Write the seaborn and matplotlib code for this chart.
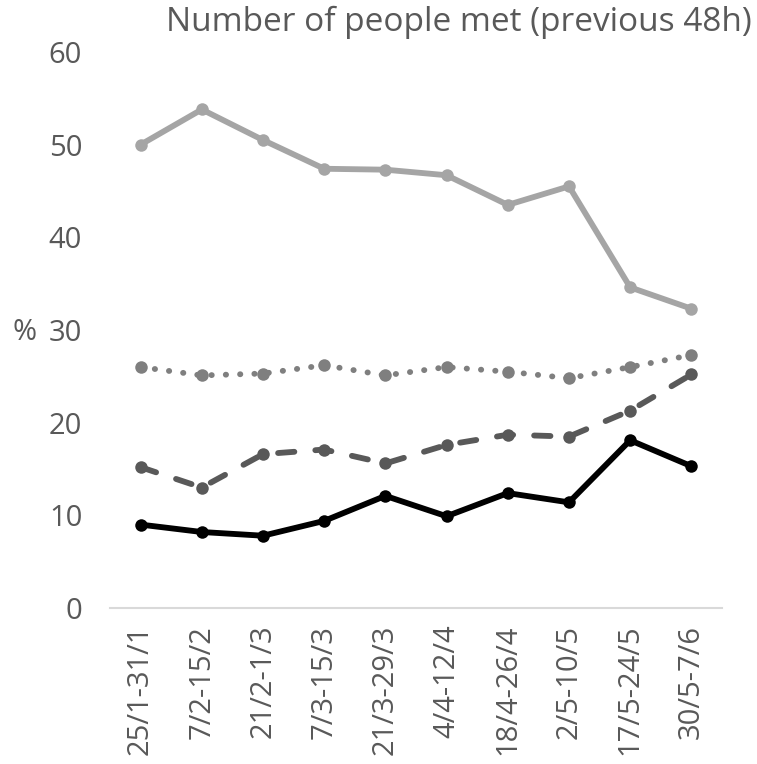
import matplotlib
matplotlib.use("Agg")
import matplotlib.pyplot as plt
import seaborn as sns
import pandas as pd

periods = ["25/1-31/1", "7/2-15/2", "21/2-1/3", "7/3-15/3", "21/3-29/3",
           "4/4-12/4", "18/4-26/4", "2/5-10/5", "17/5-24/5", "30/5-7/6"]

met_few = [50.0, 53.8, 50.5, 47.4, 47.3, 46.7, 43.5, 45.5, 34.6, 32.3]
met_some = [26.0, 25.1, 25.3, 26.2, 25.1, 26.0, 25.5, 24.8, 26.0, 27.3]
met_more = [15.2, 13.0, 16.6, 17.1, 15.6, 17.6, 18.7, 18.5, 21.3, 25.2]
met_many = [9.0, 8.2, 7.8, 9.4, 12.1, 9.9, 12.4, 11.4, 18.1, 15.3]

series = [
    (met_few, "#A5A5A5", "-"),
    (met_some, "#7F7F7F", (0, (0.05, 2.4))),
    (met_more, "#595959", (0, (2.8, 3.6))),
    (met_many, "#000000", "-"),
]

sns.set_style("white")
plt.rcParams["font.family"] = ["Open Sans", "DejaVu Sans"]

fig = plt.figure(figsize=(7.57, 7.64), dpi=100)
ax = fig.add_axes([110 / 757, 1 - 608 / 764, 612 / 757, 556 / 764])

xs = list(range(len(periods)))
for values, color, ls in series:
    df = pd.DataFrame({"x": xs, "y": values})
    sns.lineplot(data=df, x="x", y="y", ax=ax, color=color, linewidth=4.2,
                 marker="o", markersize=9, markeredgewidth=0, linestyle=ls)

for line in ax.lines:
    line.set_dash_capstyle("round")
    line.set_solid_capstyle("round")
    line.set_solid_joinstyle("round")

ax.set_xlim(-0.5, len(periods) - 0.5)
ax.set_ylim(0, 60)
ax.set_yticks(range(0, 61, 10))
ax.set_xticks(xs)
ax.set_xticklabels(periods, rotation=90, va="top", ha="center")
ax.tick_params(axis="both", length=0, labelsize=21, labelcolor="#595959")
ax.tick_params(axis="x", pad=12)
ax.tick_params(axis="y", pad=20)
ax.set_xlabel("")
ax.set_ylabel("")

for side in ["left", "right", "top"]:
    ax.spines[side].set_visible(False)
ax.spines["bottom"].set_color("#D9D9D9")
ax.spines["bottom"].set_linewidth(1.5)

fig.text(25 / 757, 1 - 333 / 764, "%", fontsize=21, color="#595959",
         ha="center", va="center")
fig.text(459 / 757, 1 - 22 / 764, "Number of people met (previous 48h)",
         fontsize=24, color="#595959", ha="center", va="center")

fig.savefig("out.png", dpi=100)
